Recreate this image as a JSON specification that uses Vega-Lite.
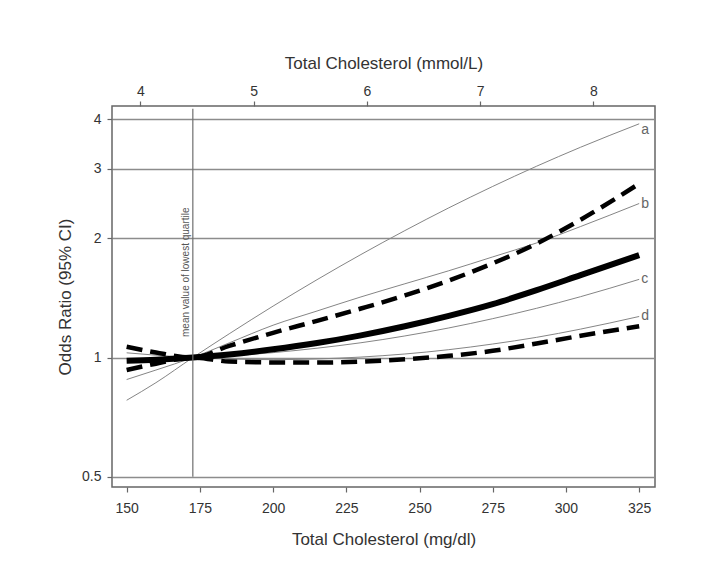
{
  "$schema": "https://vega.github.io/schema/vega-lite/v6.json",
  "autosize": {"type": "none"},
  "padding": {"left": 112, "top": 106, "right": 61, "bottom": 78},
  "width": 543,
  "height": 381,
  "background": "white",
  "config": {
    "font": "Liberation Sans",
    "view": {"stroke": "#666", "strokeWidth": 1.5},
    "axis": {
      "labelColor": "#333",
      "titleColor": "#333",
      "labelFontSize": 14,
      "titleFontSize": 17,
      "titleFontWeight": "normal",
      "tickColor": "#666",
      "tickWidth": 1.2,
      "tickSize": 5,
      "domain": false
    }
  },
  "datasets": {
    "curves": [
      {"s": "a", "x": 150, "y": 0.78}, {"s": "a", "x": 160, "y": 0.864}, {"s": "a", "x": 172.6, "y": 1}, {"s": "a", "x": 185, "y": 1.148}, {"s": "a", "x": 200, "y": 1.349}, {"s": "a", "x": 215, "y": 1.573}, {"s": "a", "x": 230, "y": 1.821}, {"s": "a", "x": 245, "y": 2.093}, {"s": "a", "x": 260, "y": 2.389}, {"s": "a", "x": 275, "y": 2.706}, {"s": "a", "x": 290, "y": 3.044}, {"s": "a", "x": 305, "y": 3.399}, {"s": "a", "x": 325, "y": 3.895},
      {"s": "b", "x": 150, "y": 0.88}, {"s": "b", "x": 160, "y": 0.93}, {"s": "b", "x": 172.6, "y": 1}, {"s": "b", "x": 185, "y": 1.089}, {"s": "b", "x": 200, "y": 1.207}, {"s": "b", "x": 215, "y": 1.311}, {"s": "b", "x": 230, "y": 1.423}, {"s": "b", "x": 245, "y": 1.536}, {"s": "b", "x": 260, "y": 1.657}, {"s": "b", "x": 275, "y": 1.796}, {"s": "b", "x": 290, "y": 1.948}, {"s": "b", "x": 305, "y": 2.143}, {"s": "b", "x": 325, "y": 2.45},
      {"s": "c", "x": 150, "y": 0.994}, {"s": "c", "x": 160, "y": 0.995}, {"s": "c", "x": 172.6, "y": 1}, {"s": "c", "x": 185, "y": 1.01}, {"s": "c", "x": 200, "y": 1.029}, {"s": "c", "x": 215, "y": 1.056}, {"s": "c", "x": 230, "y": 1.09}, {"s": "c", "x": 245, "y": 1.134}, {"s": "c", "x": 260, "y": 1.188}, {"s": "c", "x": 275, "y": 1.254}, {"s": "c", "x": 290, "y": 1.332}, {"s": "c", "x": 305, "y": 1.425}, {"s": "c", "x": 325, "y": 1.576},
      {"s": "d", "x": 150, "y": 1.028}, {"s": "d", "x": 160, "y": 1.014}, {"s": "d", "x": 172.6, "y": 1}, {"s": "d", "x": 185, "y": 0.992}, {"s": "d", "x": 200, "y": 0.988}, {"s": "d", "x": 215, "y": 0.992}, {"s": "d", "x": 230, "y": 1.003}, {"s": "d", "x": 245, "y": 1.021}, {"s": "d", "x": 260, "y": 1.047}, {"s": "d", "x": 275, "y": 1.082}, {"s": "d", "x": 290, "y": 1.125}, {"s": "d", "x": 305, "y": 1.18}, {"s": "d", "x": 325, "y": 1.27},
      {"s": "upper", "x": 150, "y": 1.065}, {"s": "upper", "x": 160, "y": 1.03}, {"s": "upper", "x": 172.6, "y": 1}, {"s": "upper", "x": 185, "y": 1.07}, {"s": "upper", "x": 200, "y": 1.155}, {"s": "upper", "x": 215, "y": 1.238}, {"s": "upper", "x": 230, "y": 1.33}, {"s": "upper", "x": 245, "y": 1.435}, {"s": "upper", "x": 260, "y": 1.565}, {"s": "upper", "x": 275, "y": 1.73}, {"s": "upper", "x": 290, "y": 1.94}, {"s": "upper", "x": 305, "y": 2.23}, {"s": "upper", "x": 325, "y": 2.75},
      {"s": "lower", "x": 150, "y": 0.93}, {"s": "lower", "x": 160, "y": 0.965}, {"s": "lower", "x": 172.6, "y": 1}, {"s": "lower", "x": 185, "y": 0.977}, {"s": "lower", "x": 200, "y": 0.972}, {"s": "lower", "x": 215, "y": 0.971}, {"s": "lower", "x": 230, "y": 0.977}, {"s": "lower", "x": 245, "y": 0.99}, {"s": "lower", "x": 260, "y": 1.01}, {"s": "lower", "x": 275, "y": 1.04}, {"s": "lower", "x": 290, "y": 1.085}, {"s": "lower", "x": 305, "y": 1.135}, {"s": "lower", "x": 325, "y": 1.2},
      {"s": "OR", "x": 150, "y": 0.981}, {"s": "OR", "x": 160, "y": 0.987}, {"s": "OR", "x": 172.6, "y": 1}, {"s": "OR", "x": 185, "y": 1.018}, {"s": "OR", "x": 200, "y": 1.049}, {"s": "OR", "x": 215, "y": 1.088}, {"s": "OR", "x": 230, "y": 1.138}, {"s": "OR", "x": 245, "y": 1.2}, {"s": "OR", "x": 260, "y": 1.275}, {"s": "OR", "x": 275, "y": 1.365}, {"s": "OR", "x": 290, "y": 1.48}, {"s": "OR", "x": 305, "y": 1.615}, {"s": "OR", "x": 325, "y": 1.815}
    ]
  },
  "layer": [
    {
      "layer": [
        {
          "data": {"name": "curves"},
          "transform": [{"filter": {"field": "s", "oneOf": ["a", "b", "c", "d"]}}],
          "mark": {"type": "line", "interpolate": "monotone", "color": "#858585", "strokeWidth": 1},
          "encoding": {
            "x": {
              "field": "x", "type": "quantitative",
              "scale": {"domain": [145, 330.4], "nice": false, "zero": false},
              "axis": {"orient": "bottom", "title": "Total Cholesterol (mg/dl)", "values": [150, 175, 200, 225, 250, 275, 300, 325], "grid": false, "labelPadding": 9, "titlePadding": 16}
            },
            "y": {
              "field": "y", "type": "quantitative",
              "scale": {"type": "log", "domain": [0.471, 4.32], "nice": false, "zero": false},
              "axis": {"title": "Odds Ratio (95% CI)", "values": [0.5, 1, 2, 3, 4], "format": "~g", "grid": true, "gridColor": "#8c8c8c", "gridWidth": 1.5, "labelPadding": 6, "titlePadding": 7}
            },
            "detail": {"field": "s"},
            "order": {"field": "x", "type": "quantitative"}
          }
        },
        {
          "data": {"name": "curves"},
          "transform": [{"filter": {"field": "s", "oneOf": ["upper", "lower"]}}],
          "mark": {"type": "line", "interpolate": "monotone", "color": "#000000", "strokeWidth": 4.5, "strokeDash": [16, 8]},
          "encoding": {
            "x": {"field": "x", "type": "quantitative", "scale": {"domain": [145, 330.4], "nice": false, "zero": false}},
            "y": {"field": "y", "type": "quantitative", "scale": {"type": "log", "domain": [0.471, 4.32], "nice": false, "zero": false}},
            "detail": {"field": "s"},
            "order": {"field": "x", "type": "quantitative"}
          }
        },
        {
          "data": {"name": "curves"},
          "transform": [{"filter": {"field": "s", "equal": "OR"}}],
          "mark": {"type": "line", "interpolate": "monotone", "color": "#000000", "strokeWidth": 6},
          "encoding": {
            "x": {"field": "x", "type": "quantitative", "scale": {"domain": [145, 330.4], "nice": false, "zero": false}},
            "y": {"field": "y", "type": "quantitative", "scale": {"type": "log", "domain": [0.471, 4.32], "nice": false, "zero": false}},
            "order": {"field": "x", "type": "quantitative"}
          }
        },
        {
          "data": {"values": [{"ref": 172.6, "lo": 0.5, "hi": 4.25}]},
          "mark": {"type": "rule", "color": "#6e6e6e", "strokeWidth": 1.2},
          "encoding": {
            "x": {"field": "ref", "type": "quantitative", "scale": {"domain": [145, 330.4], "nice": false, "zero": false}},
            "y": {"field": "lo", "type": "quantitative", "scale": {"type": "log", "domain": [0.471, 4.32], "nice": false, "zero": false}},
            "y2": {"field": "hi"}
          }
        },
        {
          "data": {"values": [{"ref": 172.6, "at": 1.127, "note": "mean value of lowest quartile"}]},
          "mark": {"type": "text", "angle": 270, "align": "left", "baseline": "bottom", "dy": -2, "fontSize": 10, "color": "#555"},
          "encoding": {
            "x": {"field": "ref", "type": "quantitative", "scale": {"domain": [145, 330.4], "nice": false, "zero": false}},
            "y": {"field": "at", "type": "quantitative", "scale": {"type": "log", "domain": [0.471, 4.32], "nice": false, "zero": false}},
            "text": {"field": "note"}
          }
        },
        {
          "data": {"values": [
            {"label": "a", "x": 325, "y": 3.75},
            {"label": "b", "x": 325, "y": 2.45},
            {"label": "c", "x": 325, "y": 1.576},
            {"label": "d", "x": 325, "y": 1.27}
          ]},
          "mark": {"type": "text", "align": "left", "baseline": "middle", "dx": 2, "fontSize": 14, "color": "#666666"},
          "encoding": {
            "x": {"field": "x", "type": "quantitative", "scale": {"domain": [145, 330.4], "nice": false, "zero": false}},
            "y": {"field": "y", "type": "quantitative", "scale": {"type": "log", "domain": [0.471, 4.32], "nice": false, "zero": false}},
            "text": {"field": "label"}
          }
        }
      ]
    },
    {
      "data": {"values": [{"mmol": 4}, {"mmol": 5}, {"mmol": 6}, {"mmol": 7}, {"mmol": 8}]},
      "mark": {"type": "point", "opacity": 0},
      "encoding": {
        "x": {
          "field": "mmol", "type": "quantitative",
          "scale": {"domain": [3.7497, 8.544], "nice": false, "zero": false},
          "axis": {"orient": "top", "title": "Total Cholesterol (mmol/L)", "values": [4, 5, 6, 7, 8], "grid": false, "labelPadding": 3, "titlePadding": 12}
        }
      }
    }
  ],
  "resolve": {"scale": {"x": "independent"}, "axis": {"x": "independent"}}
}
